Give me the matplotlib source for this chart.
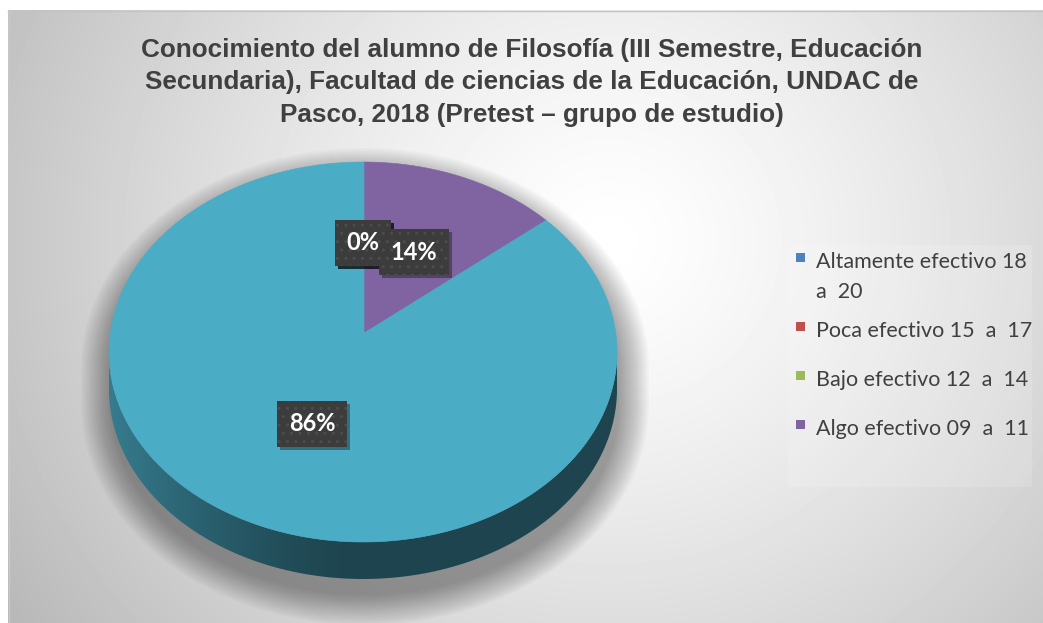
"""
Gráfico de pastel 3D: conocimiento del alumno de Filosofía (Pretest).
"""

import numpy as np
import matplotlib
matplotlib.use("Agg")
import matplotlib.pyplot as plt
from matplotlib.patches import Polygon, Rectangle
from matplotlib.colors import to_rgb

# ---- datos -------------------------------------------------------------
categories = ["Altamente efectivo 18\na  20",
              "Poca efectivo 15  a  17",
              "Bajo efectivo 12  a  14",
              "Algo efectivo 09  a  11",
              "Deficiente 00  a  08"]
values = [0, 0, 0, 14, 86]          # porcentajes
colors = ["#4F81BD", "#C0504D", "#9BBB59", "#8064A2", "#4BACC6"]
n_legend = 4                         # la leyenda original sólo muestra 4

title_lines = ["Conocimiento del alumno de Filosofía (III Semestre, Educación",
               "Secundaria), Facultad de ciencias de la Educación, UNDAC de",
               "Pasco, 2018 (Pretest – grupo de estudio)"]

# ---- geometría (pixeles) -----------------------------------------------
W, H = 1043, 623
CX, CY = 363, 352        # centro de la elipse superior
RX, RY = 254, 190
AX_, AY_ = 364, 333      # vértice de las porciones (perspectiva)
DEPTH = 37
TXT = "#404040"

fig = plt.figure(figsize=(W / 100, H / 100), dpi=100)
ax = fig.add_axes([0, 0, 1, 1])
ax.set_xlim(0, W)
ax.set_ylim(H, 0)
ax.axis("off")

# fondo con degradado radial
yy, xx = np.mgrid[10:H, 8:W].astype(float)
r = np.hypot((xx - 610) / 1.0, (yy - 240) / 0.95) / 640
bg = 1.0 - 0.24 * np.clip(r, 0, 1.2) ** 1.3
ax.imshow(bg, extent=(8, W, H, 10), cmap="gray", vmin=0, vmax=1,
          zorder=0, aspect="auto")
ax.plot([8, W], [10.5, 10.5], color="#c4c4c4", lw=1, zorder=0.5)
ax.plot([8.5, 8.5], [10, H], color="#c8c8c8", lw=1, zorder=0.5)

# recuadro de la leyenda (ligeramente más claro)
ax.add_patch(Rectangle((788, 245), 244, 242, facecolor="white", alpha=0.15,
                       lw=0, zorder=0.6))


def rim(theta):
    """Punto del borde para el ángulo theta (grados, horario desde arriba)."""
    t = np.radians(theta)
    dx, dy = RX * np.sin(t), -RY * np.cos(t)
    px, py = AX_ - CX, AY_ - CY
    a = (dx / RX) ** 2 + (dy / RY) ** 2
    b = 2 * (px * dx / RX ** 2 + py * dy / RY ** 2)
    c = (px / RX) ** 2 + (py / RY) ** 2 - 1
    s = (-b + np.sqrt(b * b - 4 * a * c)) / (2 * a)
    return AX_ + s * dx, AY_ + s * dy


# sombra difusa bajo el pastel
ang = np.radians(np.linspace(0, 360, 361))
for d in np.linspace(30, 0, 20):
    sx = CX + 2 + (RX + d) * np.sin(ang)
    sy = CY + 16 + (RY + d) * -np.cos(ang)
    sy = np.where(np.cos(ang) < 0, sy + DEPTH, sy)
    ax.add_patch(Polygon(np.column_stack([sx, sy]), closed=True,
                         facecolor="black", alpha=0.02, lw=0, zorder=1))

# porciones
total = float(sum(values))
bounds = np.concatenate([[0], np.cumsum(values)]) / total * 360
gx = np.linspace(CX - RX, CX + RX, 400)
frac = np.clip(1 - (gx - (CX - RX)) / (0.95 * RX), 0, 1) ** 1.4
shade = 0.40 + 0.32 * frac

for i, (v, col) in enumerate(zip(values, colors)):
    if v == 0:
        continue
    th = np.linspace(bounds[i], bounds[i + 1], 300)
    pts = np.array([rim(t) for t in th])

    # pared lateral (sólo la parte frontal)
    front = pts[:, 1] >= CY - 0.5
    runs, cur = [], []
    for ok, p in zip(front, pts):
        if ok:
            cur.append(p)
        elif cur:
            runs.append(np.array(cur))
            cur = []
    if cur:
        runs.append(np.array(cur))
    rgb = np.array(to_rgb(col))
    grad = (shade[:, None] * rgb[None, :])[None, :, :]
    for run in runs:
        if len(run) < 2:
            continue
        low = run[::-1] + [0, DEPTH]
        poly = Polygon(np.vstack([run, low]), closed=True, facecolor="none",
                       lw=0, zorder=2)
        ax.add_patch(poly)
        im = ax.imshow(grad, extent=(CX - RX, CX + RX, CY + RY + DEPTH + 2,
                                     CY - 2), aspect="auto", zorder=2)
        im.set_clip_path(poly)

    # cara superior
    top = np.vstack([[AX_, AY_], pts])
    ax.add_patch(Polygon(top, closed=True, facecolor=col, edgecolor=col,
                         lw=0.4, zorder=3))

# etiquetas de porcentaje
z = 5
for i, v in enumerate(values):
    mid = np.radians((bounds[i] + bounds[i + 1]) / 2)
    lx = AX_ - 1 + 0.47 * RX * np.sin(mid)
    ly = AY_ + 5 - 0.5 * RY * np.cos(mid)
    lab = f"{v / total * 100:.0f}%"
    ax.text(lx + 3, ly + 3, lab, color=(0, 0, 0, 0), fontsize=17,
            fontfamily="Lato", fontweight="bold", ha="center", va="center",
            bbox=dict(boxstyle="square,pad=0.5", fc="black", alpha=0.35,
                      lw=0), zorder=z)
    ax.text(lx, ly, lab, color="white", fontsize=17, fontfamily="Lato",
            fontweight="bold", ha="center", va="center",
            bbox=dict(boxstyle="square,pad=0.5", fc="#3c3c3c", ec="#4c4c4c",
                      hatch="..", lw=0), zorder=z + 1)
    z += 2

# título
for k, line in enumerate(title_lines):
    ax.text(532, 57 + 32.5 * k, line, ha="center", va="baseline",
            fontsize=18.8, fontweight="bold", fontfamily="Liberation Sans",
            color=TXT, zorder=10)

# leyenda
legend_base = [268, 337, 386, 435]
for name, col, yb in zip(categories[:n_legend], colors, legend_base):
    ax.add_patch(Rectangle((796, yb - 15.5), 9, 9, facecolor=col, lw=0,
                           zorder=10))
    for j, part in enumerate(name.split("\n")):
        ax.text(816, yb + 30 * j, part, ha="left", va="baseline",
                fontsize=15.5, fontfamily="Lato", color=TXT, zorder=10)

fig.savefig("out.png", dpi=100)
